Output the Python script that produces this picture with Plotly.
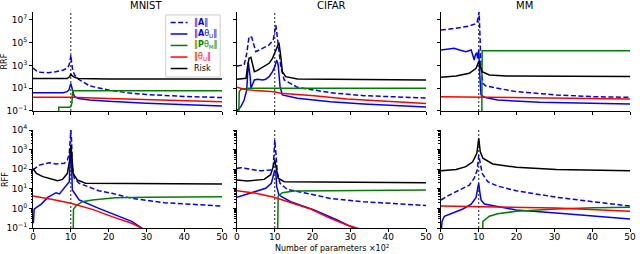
import plotly.graph_objects as go

# ---------------- data ----------------
threshold = 10  # interpolation threshold (x10^2 parameters)

# ---- MNIST, RRF ----
mn_rrf_A_x = [0, 1, 2, 4, 6, 8, 9, 9.5, 9.8, 10, 10.2, 10.5, 11, 12, 15, 20, 25, 30, 40, 50]
mn_rrf_A_y = [603, 316, 251, 234, 282, 398, 562, 1000, 2510, 8320, 2000, 398, 145, 63.1, 15.8, 7.08, 3.98, 2.82, 1.91, 1.51]
mn_rrf_AU_x = [0, 3, 6, 7, 8, 9, 9.5, 10, 10.3, 10.7, 11, 12, 15, 20, 30, 40, 50]
mn_rrf_AU_y = [4.07, 3.98, 3.98, 3.55, 3.98, 5.01, 7.08, 26.9, 7.94, 3.16, 1.82, 1.26, 0.933, 0.708, 0.479, 0.355, 0.275]
mn_rrf_PM_x = [6.8, 6.8, 9.7, 10.0, 10.3, 10.5, 50]
mn_rrf_PM_y = [0.01, 0.214, 0.214, 0.25, 0.5, 6.03, 6.03]
mn_rrf_TU_x = [0, 10, 20, 30, 40, 50]
mn_rrf_TU_y = [1.58, 1.58, 1.26, 1.0, 0.79, 0.66]
mn_rrf_R_x = [0, 5, 9, 9.7, 10, 10.3, 11, 12, 20, 50]
mn_rrf_R_y = [72, 66, 71, 100, 178, 126, 89, 71, 66, 66]

# ---- CIFAR, RRF ----
ci_rrf_A_x = [0, 1.9, 2.6, 3.2, 3.9, 5.0, 8.5, 9.6, 10.3, 11.1, 11.6, 12.5, 16, 24.7, 33.5, 47.5, 50]
ci_rrf_A_y = [912, 1100, 11700, 339000, 302000, 16200, 63100, 174000, 3630000, 22900, 794, 53.7, 12.0, 4.07, 2.24, 1.48, 1.41]
ci_rrf_AU_x = [0, 0.2, 1.05, 1.9, 2.6, 3.0, 3.5, 3.7, 4.6, 5.4, 6.8, 7.6, 8.5, 9.4, 10, 10.5, 10.9, 11.4, 12.0, 16, 24.7, 33.5, 50]
ci_rrf_AU_y = [0.05, 0.123, 0.240, 0.933, 7.08, 1995, 100, 10, 53.7, 61.7, 53.7, 61.7, 105, 288, 794, 3020, 1100, 13.8, 2.57, 1.32, 0.661, 0.417, 0.229]
ci_rrf_PM_x = [0.45, 0.6, 1.05, 3, 50]
ci_rrf_PM_y = [0.01, 5.01, 8.13, 10, 10]
ci_rrf_TU_x = [0, 1.9, 5.0, 9.8, 11.6, 20.4, 29.1, 50]
ci_rrf_TU_y = [12.0, 8.13, 6.17, 5.01, 3.55, 2.24, 1.15, 0.447]
ci_rrf_R_x = [0, 2.4, 2.8, 3.2, 3.7, 4.1, 4.6, 5.3, 7.2, 8.5, 9.4, 10, 10.7, 11.1, 11.6, 12.0, 12.9, 16, 50]
ci_rrf_R_y = [61.7, 74.1, 794, 4270, 5250, 1100, 288, 355, 794, 1550, 4270, 11700, 44700, 100000, 5890, 288, 105, 64.6, 53.7]

# ---- MM, RRF ----
mm_rrf_A_x = [0, 4, 7.5, 9.5, 9.9, 10.1, 10.3, 10.6, 11.1, 11.9, 15, 19.9, 30.5, 40.3, 50]
mm_rrf_A_y = [1.32e6, 1.86e6, 2.95e6, 5.13e6, 1.95e7, 5.37e7, 6.76e5, 794, 26.9, 15.8, 10, 5.01, 2.57, 1.82, 1.58]
mm_rrf_AU_x = [0, 2.2, 3.5, 4.9, 6.6, 8.0, 8.4, 8.8, 9.1, 9.5, 9.7, 10.0, 10.3, 10.6, 11.5, 15, 26.1, 50]
mm_rrf_AU_y = [22900, 26300, 32400, 22900, 16200, 22900, 8320, 3020, 8320, 13500, 4270, 22900, 105, 2.57, 1.58, 0.933, 0.575, 0.417]
mm_rrf_PM_x = [10.8, 10.9, 50]
mm_rrf_PM_y = [0.01, 20000, 20000]
mm_rrf_TU_x = [0, 17.3, 50]
mm_rrf_TU_y = [1.82, 1.58, 1.15]
mm_rrf_R_x = [0, 4, 7.5, 9.3, 10, 10.4, 10.9, 12.8, 17.3, 50]
mm_rrf_R_y = [91.2, 120, 204, 562, 2190, 794, 288, 148, 120, 105]

# ---- MNIST, RFF ----
mn_rff_A_x = [0, 1.7, 4.3, 6.1, 8.3, 9.1, 9.6, 9.8, 10.0, 10.2, 10.4, 10.9, 12.2, 17.4, 20.9, 26.1, 34.8, 50]
mn_rff_A_y = [91.2, 162, 214, 186, 200, 295, 646, 3090, 10000, 3090, 138, 34.7, 19.1, 7.94, 5.89, 3.24, 1.95, 1.32]
mn_rff_AU_x = [0.1, 0.3, 1.3, 2.2, 3.9, 5.2, 6.1, 7.0, 7.8, 8.7, 9.6, 9.9, 10, 10.2, 10.4, 10.9, 12.2, 17.4, 20.9, 26.1, 28.7, 29.6]
mn_rff_AU_y = [0.174, 0.912, 1.26, 1.66, 3.63, 5.25, 6.31, 5.50, 8.71, 13.8, 22.9, 646, 1410, 200, 8.71, 6.31, 2.69, 1.0, 0.562, 0.219, 0.102, 0.063]
mn_rff_PM_x = [10.6, 10.7, 11.3, 13, 15.7, 21.7, 30.4, 50]
mn_rff_PM_y = [0.01, 0.891, 1.32, 2.19, 2.69, 3.47, 3.72, 3.98]
mn_rff_TU_x = [0, 5.2, 10, 15.7, 20.9, 26.1, 28.7, 30]
mn_rff_TU_y = [4.27, 2.88, 1.82, 0.891, 0.380, 0.174, 0.1, 0.063]
mn_rff_R_x = [0, 0.9, 2.6, 5.2, 6.5, 7.8, 9.1, 9.7, 10, 10.3, 10.6, 11.7, 13.9, 50]
mn_rff_R_y = [110, 61.7, 41.7, 30.2, 25.7, 30.2, 61.7, 295, 1700, 437, 61.7, 28.2, 19.1, 17.4]

# ---- CIFAR, RFF ----
ci_rff_A_x = [0, 1.05, 3.7, 6.3, 8.9, 9.6, 9.8, 10, 10.3, 10.7, 11.4, 13.3, 17.7, 24.7, 33.5, 50]
ci_rff_A_y = [110, 120, 97.7, 83.2, 91.2, 135, 646, 3090, 646, 61.7, 19.1, 9.33, 6.31, 3.24, 2.19, 1.41]
ci_rff_AU_x = [0, 1.9, 5.0, 7.6, 9.1, 9.6, 10, 10.3, 10.5, 11.1, 14.2, 20.4, 26.5, 30.9, 31.8]
ci_rff_AU_y = [3.72, 4.79, 7.08, 10.7, 19.1, 41.7, 91.2, 61.7, 12.9, 4.79, 2.19, 0.832, 0.257, 0.1, 0.063]
ci_rff_PM_x = [10.7, 10.9, 12, 15.1, 24.7, 50]
ci_rff_PM_y = [0.01, 4.27, 6.31, 7.76, 7.94, 8.71]
ci_rff_TU_x = [0, 5.0, 9.8, 14.2, 19.5, 24.7, 29.1, 32.6]
ci_rff_TU_y = [7.94, 5.89, 3.72, 1.95, 0.933, 0.309, 0.141, 0.089]
ci_rff_R_x = [0, 2.8, 7.2, 8.9, 9.6, 10, 10.4, 10.9, 12.5, 50]
ci_rff_R_y = [28.2, 25.1, 30.2, 52.5, 135, 295, 110, 34.7, 22.9, 20.4]

# ---- MM, RFF ----
mm_rff_A_x = [0, 2.2, 4.9, 7.5, 8.8, 9.6, 10, 10.4, 10.9, 12.4, 15, 19.9, 30.5, 40.3, 50]
mm_rff_A_y = [2.69, 4.79, 8.71, 15.5, 34.7, 91.2, 525, 200, 61.7, 22.9, 13.8, 7.94, 3.72, 2.19, 1.32]
mm_rff_AU_x = [0, 0.1, 0.3, 0.9, 3.1, 5.8, 8.0, 9.3, 9.8, 10, 10.2, 10.6, 11.5, 15, 19.9, 30.5, 40.3, 50]
mm_rff_AU_y = [0.05, 0.1, 0.219, 0.398, 0.589, 0.933, 1.66, 3.63, 12.9, 19.1, 8.71, 2.69, 1.66, 1.20, 0.832, 0.589, 0.398, 0.288]
mm_rff_PM_x = [10.9, 11.1, 12.8, 15, 19.9, 30.5, 40.3, 50]
mm_rff_PM_y = [0.01, 0.219, 0.398, 0.537, 0.708, 0.933, 1.07, 1.15]
mm_rff_TU_x = [0, 10, 30.5, 50]
mm_rff_TU_y = [1.32, 1.23, 1.05, 0.708]
mm_rff_R_x = [0, 4, 6.6, 8.4, 9.5, 10, 10.4, 11.1, 13.7, 19.9, 30.5, 50]
mm_rff_R_y = [83.2, 97.7, 135, 240, 646, 3800, 776, 363, 186, 126, 97.7, 83.2]

datasets = ["MNIST", "CIFAR", "MM"]
row_labels = ["RRF", "RFF"]
series_names = ['‖<b>A</b>‖', '‖<b>A</b>θ<sub>U</sub>‖', '‖<b>P</b>θ<sub>M</sub>‖', '‖θ<sub>U</sub>‖', 'Risk']

top_ticks = [0.1, 10, 1e3, 1e5, 1e7]
top_tick_text = ['10<sup>−1</sup>', '10<sup>1</sup>', '10<sup>3</sup>', '10<sup>5</sup>', '10<sup>7</sup>']
bot_ticks = [0.1, 1, 10, 100, 1e3, 1e4]
bot_tick_text = ['10<sup>−1</sup>', '10<sup>0</sup>', '10<sup>1</sup>', '10<sup>2</sup>', '10<sup>3</sup>', '10<sup>4</sup>']
x_ticks = [0, 10, 20, 30, 40, 50]

# ---------------- figure ----------------
colors = ["#0000ff", "#0000ff", "#008000", "#ff0000", "#000000"]
dashes = ["5px,2.5px", "solid", "solid", "solid", "solid"]

panels = [
    [(mn_rrf_A_x, mn_rrf_A_y), (mn_rrf_AU_x, mn_rrf_AU_y), (mn_rrf_PM_x, mn_rrf_PM_y), (mn_rrf_TU_x, mn_rrf_TU_y), (mn_rrf_R_x, mn_rrf_R_y)],
    [(ci_rrf_A_x, ci_rrf_A_y), (ci_rrf_AU_x, ci_rrf_AU_y), (ci_rrf_PM_x, ci_rrf_PM_y), (ci_rrf_TU_x, ci_rrf_TU_y), (ci_rrf_R_x, ci_rrf_R_y)],
    [(mm_rrf_A_x, mm_rrf_A_y), (mm_rrf_AU_x, mm_rrf_AU_y), (mm_rrf_PM_x, mm_rrf_PM_y), (mm_rrf_TU_x, mm_rrf_TU_y), (mm_rrf_R_x, mm_rrf_R_y)],
    [(mn_rff_A_x, mn_rff_A_y), (mn_rff_AU_x, mn_rff_AU_y), (mn_rff_PM_x, mn_rff_PM_y), (mn_rff_TU_x, mn_rff_TU_y), (mn_rff_R_x, mn_rff_R_y)],
    [(ci_rff_A_x, ci_rff_A_y), (ci_rff_AU_x, ci_rff_AU_y), (ci_rff_PM_x, ci_rff_PM_y), (ci_rff_TU_x, ci_rff_TU_y), (ci_rff_R_x, ci_rff_R_y)],
    [(mm_rff_A_x, mm_rff_A_y), (mm_rff_AU_x, mm_rff_AU_y), (mm_rff_PM_x, mm_rff_PM_y), (mm_rff_TU_x, mm_rff_TU_y), (mm_rff_R_x, mm_rff_R_y)],
]

FONT = "DejaVu Sans"
fig = go.Figure()

x_domains = [[0.0, 0.3167], [0.3416, 0.6584], [0.6833, 1.0]]
y_domains = [[0.5417, 1.0], [0.0, 0.4537]]

for p, series in enumerate(panels):
    row, col = divmod(p, 3)
    n = p + 1
    xa = "x" if n == 1 else f"x{n}"
    ya = "y" if n == 1 else f"y{n}"
    for s, (xs, ys) in enumerate(series):
        fig.add_trace(go.Scatter(
            x=xs, y=ys, mode="lines", xaxis=xa, yaxis=ya,
            line=dict(color=colors[s], width=1.5, dash=dashes[s]),
            name=series_names[s], showlegend=False, hoverinfo="skip",
        ))
    fig.add_shape(type="line", xref=xa, yref=f"{ya} domain", x0=threshold, x1=threshold, y0=0, y1=1,
                  line=dict(color="#222222", width=1, dash="2px,2px"), layer="below")

    xkey = "xaxis" if n == 1 else f"xaxis{n}"
    ykey = "yaxis" if n == 1 else f"yaxis{n}"
    fig.layout[xkey] = dict(
        domain=x_domains[col], anchor=ya, range=[0, 50], tickvals=x_ticks,
        showticklabels=(row == 1), ticks="outside", ticklen=3, tickwidth=1, tickcolor="black",
        showline=True, linecolor="black", linewidth=1, showgrid=False, zeroline=False,
        tickfont=dict(size=9, family=FONT, color="black"), ticklabelstandoff=-3,
    )
    if row == 0:
        yd = dict(range=[-1, 7.7], tickvals=top_ticks, ticktext=top_tick_text)
    else:
        yd = dict(range=[-1, 4], tickvals=bot_ticks, ticktext=bot_tick_text,
                  minor=dict(ticks="outside", ticklen=1.5, tickcolor="black", dtick="D1"))
    fig.layout[ykey] = dict(
        domain=y_domains[row], anchor=xa, type="log",
        showticklabels=(col == 0), ticks="outside", ticklen=3, tickwidth=1, tickcolor="black",
        showline=True, linecolor="black", linewidth=1, showgrid=False, zeroline=False,
        tickfont=dict(size=9, family=FONT, color="black"), **yd,
    )

# ---- legend (drawn inside the first panel, like the reference) ----
leg_box = dict(x0=0.702, x1=0.990, y0=0.343, y1=0.970)
leg_line_x = (0.728, 0.817)
leg_text_x = 0.843
leg_rows = [0.894, 0.778, 0.662, 0.545, 0.429]
fig.add_shape(type="rect", xref="x domain", yref="y domain", layer="above",
              line=dict(color="#cccccc", width=1), fillcolor="rgba(255,255,255,0.85)", **leg_box)

annotations = []
for s, yy in enumerate(leg_rows):
    fig.add_shape(type="line", xref="x domain", yref="y domain", layer="above",
                  x0=leg_line_x[0], x1=leg_line_x[1], y0=yy, y1=yy,
                  line=dict(color=colors[s], width=1.5, dash=dashes[s]))
    annotations.append(dict(text=series_names[s], xref="x domain", yref="y domain", x=leg_text_x, y=yy,
                            xanchor="left", yanchor="middle", showarrow=False,
                            font=dict(size=8, family=FONT, color=colors[s])))

for c, name in enumerate(datasets):
    annotations.append(dict(text=name, xref="paper", yref="paper", x=sum(x_domains[c]) / 2, y=1.0,
                            yshift=7, yanchor="middle", showarrow=False,
                            font=dict(size=10, family=FONT, color="black")))
for r, lab in enumerate(row_labels):
    annotations.append(dict(text=lab, xref="paper", yref="paper", x=-0.047, y=sum(y_domains[r]) / 2,
                            textangle=-90, showarrow=False, xanchor="center", yanchor="middle",
                            font=dict(size=8, family=FONT, color="black")))
annotations.append(dict(text="Number of parameters ×10<sup>2</sup>", xref="paper", yref="paper",
                        x=sum(x_domains[1]) / 2, y=0, yshift=-26, yanchor="bottom", showarrow=False,
                        borderpad=0, font=dict(size=8, family=FONT, color="black")))

fig.update_layout(
    width=640, height=254,
    margin=dict(l=33, r=4, t=12, b=26),
    paper_bgcolor="white", plot_bgcolor="white",
    font=dict(family=FONT, size=9, color="black"),
    annotations=annotations,
    showlegend=False,
)

fig.write_html("out.html", config={"displayModeBar": False, "staticPlot": True},
               post_script="document.body.style.margin='0';document.body.style.overflow='hidden';")
